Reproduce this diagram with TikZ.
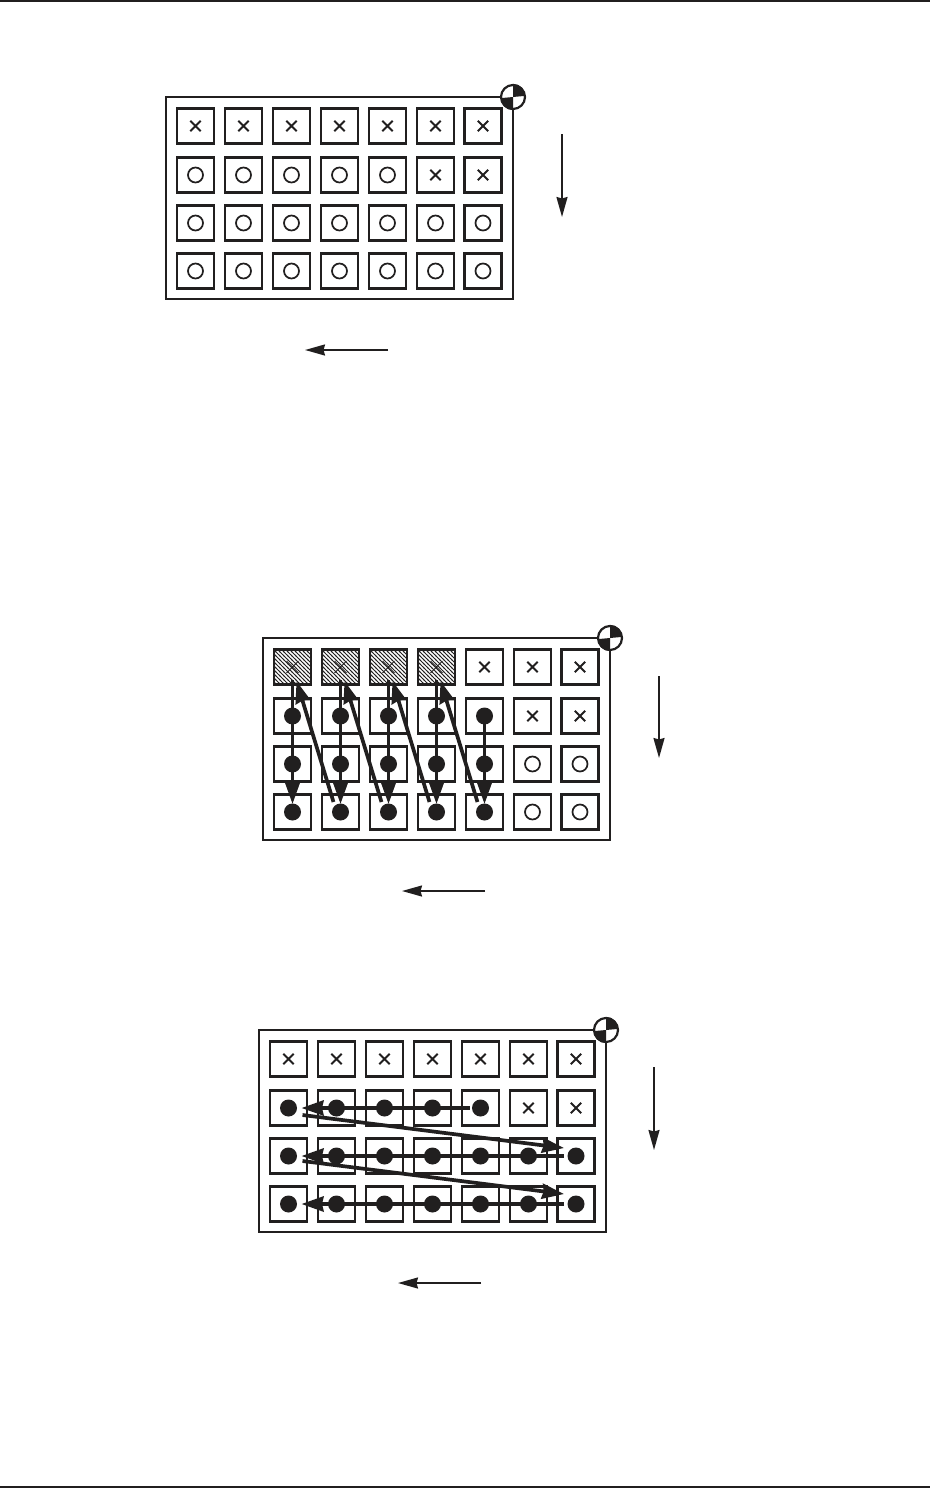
\documentclass[tikz,border=0pt]{standalone}
\definecolor{inkblack}{rgb}{0.13,0.12,0.12}
\usepackage{tikz}
\usetikzlibrary{arrows.meta,patterns,shapes.misc}

\pgfdeclarepatternformonly{hatchlines}{\pgfqpoint{-1pt}{-1pt}}{\pgfqpoint{5pt}{5pt}}{\pgfqpoint{4pt}{4pt}}{%
  \pgfsetlinewidth{0.75pt}
  \pgfpathmoveto{\pgfqpoint{-1pt}{5pt}}
  \pgfpathlineto{\pgfqpoint{5pt}{-1pt}}
  \pgfusepath{stroke}}

\newcommand{\gridpanel}[4]{% name, shift x, shift y, rows of marks
  \begin{scope}[shift={(#2,#3)}]
    \draw[frame] (166,97) rectangle (513,299);
    \node[target] (#1t) at (513,97) {};
    \fill[inkblack] (#1t.center) -- (#1t.north) arc[start angle=90,end angle=0,radius=12pt] -- cycle;
    \fill[inkblack] (#1t.center) -- (#1t.south) arc[start angle=270,end angle=180,radius=12pt] -- cycle;
    \foreach \rowmarks [count=\rownum] in {#4} {
      \foreach \m [count=\colnum] in \rowmarks {
        \pgfmathsetmacro{\cx}{195.5+{0,48,96,144,192,240,287.5}[\colnum-1]}
        \pgfmathsetmacro{\cy}{126+{0,49,97,145}[\rownum-1]}
        \node[box,box\m/.try] (#1-\colnum-\rownum) at (\cx,\cy) {};
        \node[mark\m] (#1m-\colnum-\rownum) at (#1-\colnum-\rownum) {};
      }
    }
  \end{scope}
}

\begin{document}
\begin{tikzpicture}[x=1pt,y=-1pt,line join=miter,
    frame/.style={draw=inkblack,line width=2.3pt},
    target/.style={circle,draw=inkblack,fill=white,line width=2.2pt,inner sep=0pt,minimum size=24pt},
    box/.style={draw=inkblack,line width=2.2pt,inner sep=0pt,minimum width=37pt,minimum height=35pt},
    boxh/.style={pattern=hatchlines,pattern color=inkblack},
    markx/.style={cross out,draw=inkblack,line width=1.9pt,inner sep=0pt,minimum size=8.5pt},
    markh/.style={cross out,draw=inkblack,line width=1pt,inner sep=0pt,minimum size=11pt},
    marko/.style={circle,draw=inkblack,line width=1.7pt,inner sep=0pt,minimum size=15pt},
    markf/.style={circle,fill=inkblack,inner sep=0pt,minimum size=17pt},
    dirarr/.style={-{Stealth[length=20pt,width=11pt,inset=1.5pt]},draw=inkblack,line width=1.9pt},
    runarr/.style={-{Stealth[length=22pt,width=15pt,inset=1.5pt]},draw=inkblack,line width=3.7pt},
    rule/.style={draw=inkblack,line width=2pt}]
  \coordinate (ruleAl) at (0,1); \coordinate (ruleAr) at (930,1);
  \coordinate (ruleBl) at (0,1487); \coordinate (ruleBr) at (930,1487);
  \useasboundingbox (0,0) rectangle (930,1488);
  \draw[rule] (ruleAl)--(ruleAr); \draw[rule] (ruleBl)--(ruleBr);

  % first grid
  \gridpanel{a}{0}{0}{{x,x,x,x,x,x,x},{o,o,o,o,o,x,x},{o,o,o,o,o,o,o},{o,o,o,o,o,o,o}}
  \coordinate (a1s) at (562,134); \coordinate (a1e) at (562,217);
  \coordinate (a2s) at (388,350); \coordinate (a2e) at (305,350);
  \draw[dirarr] (a1s)--(a1e); \draw[dirarr] (a2s)--(a2e);

  % second grid
  \gridpanel{b}{97}{541}{{h,h,h,h,x,x,x},{f,f,f,f,f,x,x},{f,f,f,f,f,o,o},{f,f,f,f,f,o,o}}
  \coordinate (b1s) at (659,676); \coordinate (b1e) at (659,758);
  \coordinate (b2s) at (485,891); \coordinate (b2e) at (402,891);
  \draw[dirarr] (b1s)--(b1e); \draw[dirarr] (b2s)--(b2e);
  \foreach \c in {1,2,3,4}
    \draw[runarr] ([yshift=-13pt]b-\c-1.center)--([yshift=8pt]b-\c-4.center);
  \draw[runarr] (b-5-2.center)--([yshift=8pt]b-5-4.center);
  \foreach \c/\d in {2/1,3/2,4/3,5/4}
    \draw[runarr] ([shift={(-7pt,10pt)}]b-\c-4.center)--([shift={(4pt,-14pt)}]b-\d-1.center);

  % third grid
  \gridpanel{c}{93}{933}{{x,x,x,x,x,x,x},{f,f,f,f,f,x,x},{f,f,f,f,f,f,f},{f,f,f,f,f,f,f}}
  \coordinate (c1s) at (654,1067); \coordinate (c1e) at (654,1150);
  \coordinate (c2s) at (481,1283); \coordinate (c2e) at (398,1283);
  \draw[dirarr] (c1s)--(c1e); \draw[dirarr] (c2s)--(c2e);
  \draw[runarr] ([xshift=-11pt]c-5-2.center)--([xshift=13pt]c-1-2.center);
  \draw[runarr] ([xshift=-12pt]c-7-3.center)--([xshift=13pt]c-1-3.center);
  \draw[runarr] ([xshift=-12pt]c-7-4.center)--([xshift=13pt]c-1-4.center);
  \draw[runarr] ([shift={(14pt,-7pt)}]c-1-2.center)--([shift={(-12pt,8pt)}]c-7-3.center);
  \draw[runarr] ([shift={(14pt,-5pt)}]c-1-3.center)--([shift={(-12pt,10pt)}]c-7-4.center);
\end{tikzpicture}
\end{document}
